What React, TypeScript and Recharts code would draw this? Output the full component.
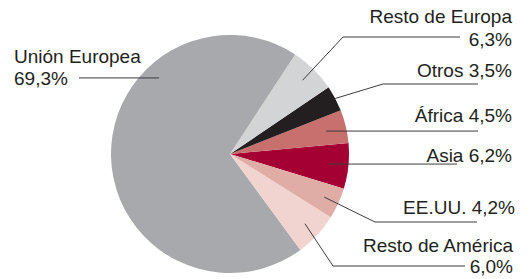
import React from "react";
import { PieChart, Pie, Cell } from "recharts";

// counterclockwise from 3 o'clock, starting at the bottom edge of Asia
const regions = ["Asia", "África", "Otros", "Resto de Europa", "Unión Europea", "Resto de América", "EE.UU."];
const shares = [6.2, 4.5, 3.5, 6.3, 69.3, 6.0, 4.2];
const colors = ["#a50034", "#c8706e", "#231f20", "#d3d4d6", "#a8a9ac", "#f1d3cf", "#e0aca6"];

const data = regions.map((name, i) => ({ name, value: shares[i] }));

const fmt = (v: number) => v.toFixed(1).replace(".", ",") + "%";

// label placement: start radius (fraction), optional angle, elbow / end of leader, text
const labelLayout: any[] = [
  { r: 0.83, endX: 457, textX: 512, anchor: "end", lines: (n: string, v: string) => [`${n} ${v}`], ys: [162] },
  { r: 0.83, endX: 478, textX: 512, anchor: "end", lines: (n: string, v: string) => [`${n} ${v}`], ys: [122] },
  { r: 1.0, elbow: [383, 84], endX: 478, textX: 512, anchor: "end", lines: (n: string, v: string) => [`${n} ${v}`], ys: [77] },
  { r: 0.87, elbow: [343, 37], endX: 460, textX: 512, anchor: "end", lines: (n: string, v: string) => [n, v], ys: [23, 46] },
  { r: 0.874, angle: 133, endX: 79, textX: 14, anchor: "start", lines: (n: string, v: string) => [n, v], ys: [63, 85] },
  { r: 0.86, elbow: [333, 266], endX: 465, textX: 513, anchor: "end", lines: (n: string, v: string) => [n, v], ys: [252, 273] },
  { r: 0.87, elbow: [375, 222], endX: 477, textX: 515, anchor: "end", lines: (n: string, v: string) => [`${n} ${v}`], ys: [214] },
];

const RAD = Math.PI / 180;

const renderLabel = (props: any) => {
  const { cx, cy, midAngle, outerRadius, index, name, value } = props;
  const cfg = labelLayout[index];
  const ang = cfg.angle ?? midAngle;
  const sx = cx + outerRadius * cfg.r * Math.cos(ang * RAD);
  const sy = cy - outerRadius * cfg.r * Math.sin(ang * RAD);
  const pts = cfg.elbow
    ? `${sx},${sy} ${cfg.elbow[0]},${cfg.elbow[1]} ${cfg.endX},${cfg.elbow[1]}`
    : `${sx},${sy} ${cfg.endX},${sy}`;
  const lines = cfg.lines(name, fmt(value));
  return (
    <g key={`lbl-${index}`}>
      <polyline points={pts} fill="none" stroke="#3c3c3c" strokeWidth={1} />
      {lines.map((t: string, i: number) => (
        <text
          key={i}
          x={cfg.textX}
          y={cfg.ys[i]}
          textAnchor={cfg.anchor}
          fill="#231f20"
          fontSize={19}
          fontFamily="'Liberation Sans', Arial, sans-serif"
        >
          {t}
        </text>
      ))}
    </g>
  );
};

export default function App() {
  return (
    <div style={{ position: "absolute", left: 0, top: 0, width: 530, height: 279, background: "#fff" }}>
      <PieChart width={530} height={279} margin={{ top: 0, right: 0, bottom: 0, left: 0 }}>
        <Pie
          data={data}
          dataKey="value"
          nameKey="name"
          cx={230}
          cy={154}
          outerRadius={119}
          startAngle={-17}
          endAngle={343}
          stroke="none"
          label={renderLabel}
          labelLine={false}
          isAnimationActive={false}
        >
          {data.map((d, i) => (
            <Cell key={d.name} fill={colors[i]} stroke="none" />
          ))}
        </Pie>
      </PieChart>
    </div>
  );
}
